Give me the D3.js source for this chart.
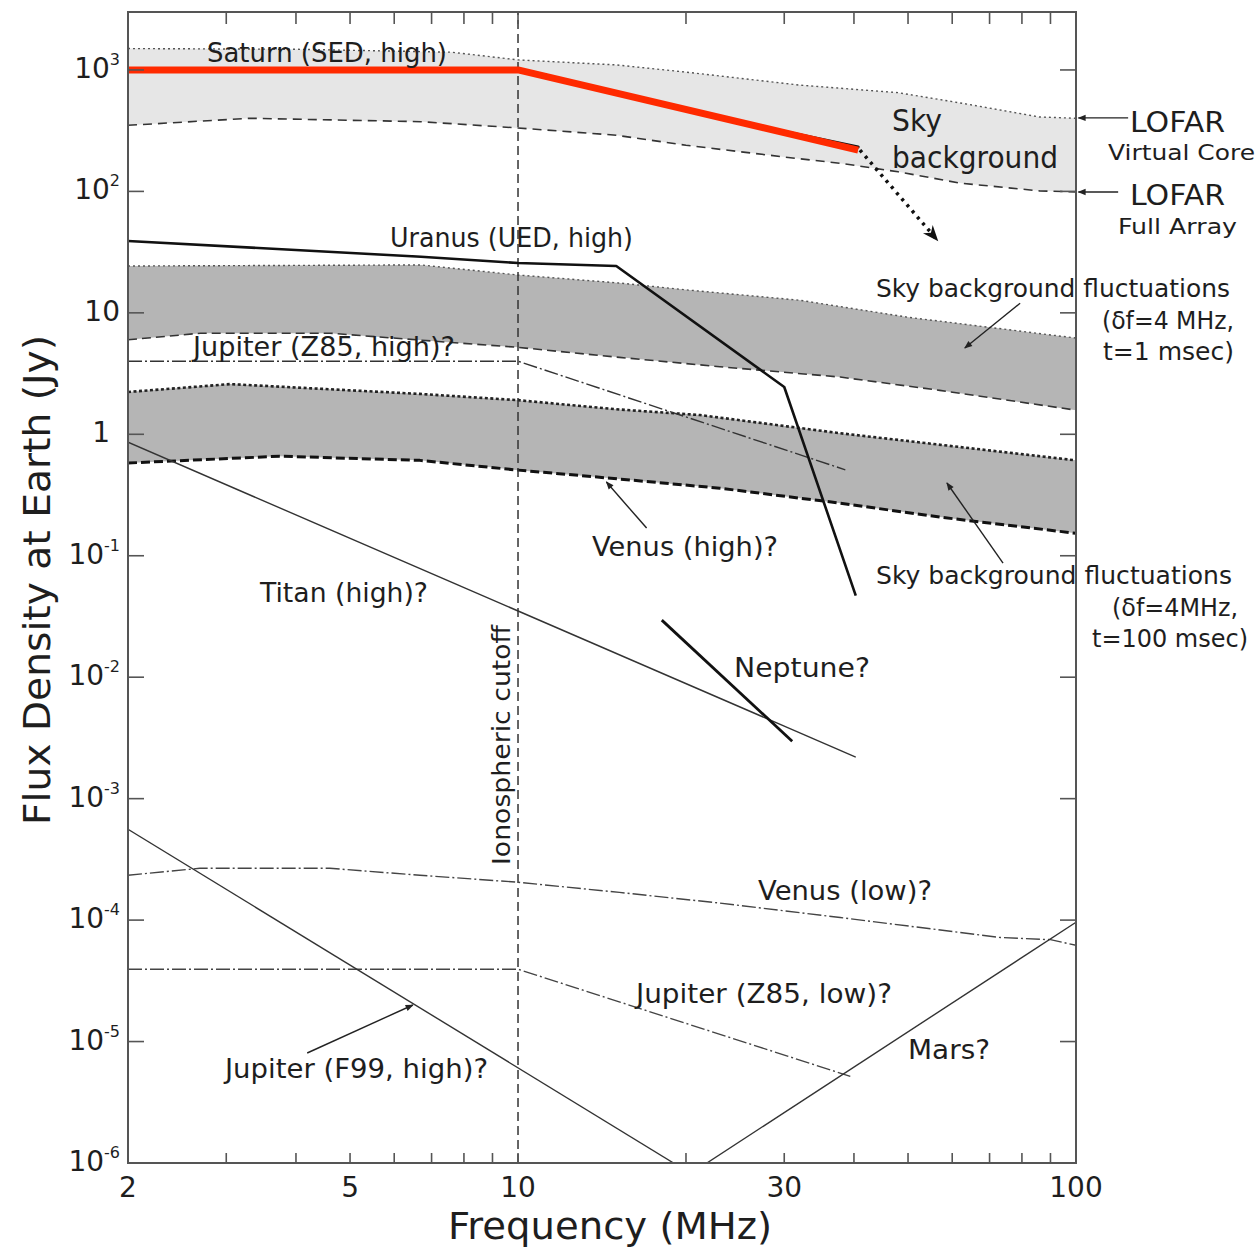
<!DOCTYPE html>
<html><head><meta charset="utf-8">
<script src="https://cdn.jsdelivr.net/npm/d3@7"></script>
<style>body{margin:0;background:#fff}svg{display:block}</style>
</head><body>
<svg id="c" width="1260" height="1250"></svg>
<script>
// ---------- tick data ----------
const xMajorTicks = [2, 5, 10, 30, 100];
const xMinorTicks = [3, 4, 5, 6, 7, 8, 9, 10, 20, 30, 40, 50, 60, 70, 80, 90];
const yTickValues = [1e-6, 1e-5, 1e-4, 1e-3, 1e-2, 1e-1, 1, 10, 100, 1000];
const yLabelBase = ["10", "10", "10", "10", "10", "10", "1", "10", "10", "10"];
const yLabelExp = ["-6", "-5", "-4", "-3", "-2", "-1", "", "", "2", "3"];

// ---------- series (frequency MHz, flux Jy) ----------
const skyBgUpper = [[2,1500],[4,1480],[7.6,1400],[10,1210],[15,1100],[20,960],[32,750],[48,650],[62,535],[86,410],[100,400]];
const skyBgLower = [[2,350],[3.3,400],[6.7,375],[10,333],[15,290],[20,240],[30,192],[38,170],[48,145],[62,117],[86,101],[100,99]];
const saturnSED = [[2,1000],[10,1000],[40.7,219]];
const saturnSEDEdge = [[22,420],[40.7,232]];
const saturnExtrap = [[41,219],[56.4,39.8]];
const uranus = [[2,39],[6.7,29],[10,25.7],[15,24.3],[30,2.45],[40.3,0.047]];
const fluct1Upper = [[2,24.3],[6.7,24.8],[10,20.5],[15.2,17.6],[20.2,15.4],[32,12.7],[50,9.2],[100,6.2]];
const fluct1Lower = [[2,6.0],[2.7,6.8],[4.6,6.8],[7.6,5.7],[10,5.2],[15.2,4.3],[23,3.6],[37.8,2.96],[57,2.3],[100,1.58]];
const jupiterZ85High = [[2,4.0],[10,4.0],[38.6,0.51]];
const fluct2Upper = [[2,2.23],[3.05,2.59],[6.67,2.15],[10,1.91],[15.2,1.6],[21.2,1.44],[37.8,1.02],[100,0.61]];
const fluct2Lower = [[2,0.58],[3.74,0.66],[6.67,0.61],[10,0.507],[14,0.443],[23,0.36],[37.8,0.271],[57,0.208],[100,0.153]];
const titan = [[2,0.86],[40.3,0.0022]];
const neptune = [[18.1,0.0295],[31,0.00297]];
const venusLow = [[2,2.34e-4],[2.69,2.67e-4],[4.6,2.67e-4],[6.67,2.34e-4],[10,2.05e-4],[15.2,1.69e-4],[23,1.38e-4],[37.8,1.05e-4],[73,7.2e-5],[90,6.9e-5],[100,6.2e-5]];
const jupiterZ85Low = [[2,3.94e-5],[10,3.94e-5],[39.4,5.17e-6]];
const mars = [[21.8,1e-6],[100,9.6e-5]];
const jupiterF99 = [[2,5.6e-4],[19,1e-6]];
const ionoCutoff = [[10,1e-6],[10,3000]];

// annotation arrows in data coordinates [from, to]
const arrowLofarCore = [[124,403],[101,403]];
const arrowLofarFull = [[119,99],[101,99]];
const arrowFluct1 = [[79.4,12.0],[63.2,5.14]];
const arrowFluct2 = [[74,0.0871],[58.7,0.397]];
const arrowVenusHigh = [[17.0,0.169],[14.4,0.405]];
const arrowJupF99 = [[4.19,8.05e-6],[6.48,2.0e-5]];

// ---------- scales ----------
const L = 128, R = 1076, T = 12, B = 1163;
const x = d3.scaleLog().domain([2, 100]).range([L, R]);
const y = d3.scaleLog().domain([1e-6, 3000]).range([B, T]);

const svg = d3.select("#c");
const FONT = "'DejaVu Sans', sans-serif";
const TXT = "#1e1e1e";

const defs = svg.append("defs");
defs.append("clipPath").attr("id","plot").append("rect")
  .attr("x",L).attr("y",T).attr("width",R-L).attr("height",B-T);
defs.append("marker").attr("id","ah").attr("viewBox","0 0 10 10")
  .attr("refX",9).attr("refY",5).attr("markerWidth",10).attr("markerHeight",8)
  .attr("markerUnits","userSpaceOnUse").attr("orient","auto")
  .append("path").attr("d","M0,1 L10,5 L0,9 Z").attr("fill","#222");
defs.append("marker").attr("id","ahBig").attr("viewBox","0 0 10 10")
  .attr("refX",9).attr("refY",5).attr("markerWidth",26).attr("markerHeight",16)
  .attr("markerUnits","userSpaceOnUse").attr("orient","auto")
  .append("path").attr("d","M0,1 L10,5 L0,9 L3,5 Z").attr("fill","#111");

const line = d3.line().x(d => x(d[0])).y(d => y(d[1]));
const g = svg.append("g").attr("clip-path","url(#plot)");

function band(upper, lower, fill) {
  const pts = upper.concat(lower.slice().reverse());
  g.append("path").attr("d", line(pts) + "Z").attr("fill", fill).attr("stroke","none");
}
function curve(data, opts) {
  return g.append("path").attr("d", line(data)).attr("fill","none")
    .attr("stroke", opts.color || "#111")
    .attr("stroke-width", opts.w || 1.5)
    .attr("stroke-dasharray", opts.dash || null)
    .attr("stroke-linecap", opts.cap || "butt")
    .attr("stroke-linejoin","round");
}

// bands
band(skyBgUpper, skyBgLower, "#e6e6e6");
band(fluct1Upper, fluct1Lower, "#b5b5b5");
band(fluct2Upper, fluct2Lower, "#b5b5b5");

// band edges
curve(skyBgUpper, {w:1.4, dash:"2,3", color:"#555"});
curve(skyBgLower, {w:1.6, dash:"9,6", color:"#333"});
curve(fluct1Upper, {w:1.4, dash:"2,3", color:"#555"});
curve(fluct1Lower, {w:1.6, dash:"9,5", color:"#333"});
curve(fluct2Upper, {w:2.6, dash:"3,2.5", color:"#222"});
curve(fluct2Lower, {w:3, dash:"9,4", color:"#111"});

// ionospheric cutoff
curve(ionoCutoff, {w:1.5, dash:"9,5", color:"#333"});

// planetary curves
curve(jupiterZ85High, {w:1.4, dash:"14,3,2,3", color:"#333"});
curve(uranus, {w:2.6, color:"#111"});
curve(titan, {w:1.4, color:"#333"});
curve(neptune, {w:2.8, color:"#111"});
curve(venusLow, {w:1.4, dash:"14,3,2,3", color:"#444"});
curve(jupiterZ85Low, {w:1.4, dash:"14,3,2,3", color:"#444"});
curve(mars, {w:1.4, color:"#333"});
curve(jupiterF99, {w:1.4, color:"#333"});
curve(saturnSEDEdge, {w:3, color:"#111", cap:"round"});
curve(saturnSED, {w:7, color:"#ff2a00"});

// dotted extrapolation arrow
svg.append("path").attr("d", line(saturnExtrap)).attr("fill","none")
  .attr("stroke","#111").attr("stroke-width",3.5).attr("stroke-dasharray","3,5")
  .attr("marker-end","url(#ahBig)");

// annotation arrows
[arrowLofarCore, arrowLofarFull, arrowFluct1, arrowFluct2, arrowVenusHigh, arrowJupF99].forEach(a => {
  svg.append("path").attr("d", line(a)).attr("fill","none")
    .attr("stroke","#222").attr("stroke-width",1.4).attr("marker-end","url(#ah)");
});

// ---------- frame & ticks ----------
svg.append("rect").attr("x",L).attr("y",T).attr("width",R-L).attr("height",B-T)
  .attr("fill","none").attr("stroke","#555").attr("stroke-width",2);

const tickG = svg.append("g").attr("stroke","#555").attr("stroke-width",1.6);
xMinorTicks.forEach(v => {
  tickG.append("line").attr("x1",x(v)).attr("x2",x(v)).attr("y1",B).attr("y2",B-10);
  tickG.append("line").attr("x1",x(v)).attr("x2",x(v)).attr("y1",T).attr("y2",T+12);
});
yTickValues.forEach(v => {
  tickG.append("line").attr("x1",L).attr("x2",L+16).attr("y1",y(v)).attr("y2",y(v));
  tickG.append("line").attr("x1",R).attr("x2",R-16).attr("y1",y(v)).attr("y2",y(v));
});

// tick labels
const xl = svg.append("g").attr("font-family",FONT).attr("font-size",28).attr("fill",TXT)
  .attr("text-anchor","middle");
xMajorTicks.forEach(v => {
  xl.append("text").attr("x", x(v)).attr("y", B + 34).text(v);
});
const yl = svg.append("g").attr("font-family",FONT).attr("font-size",28).attr("fill",TXT)
  .attr("text-anchor","end");
yTickValues.forEach((v,i) => {
  const t = yl.append("text").attr("x", 120).attr("y", y(v) + 8);
  t.append("tspan").text(yLabelBase[i]);
  if (yLabelExp[i]) t.append("tspan").attr("font-size",16).attr("dy",-13).text(yLabelExp[i]);
  if (yLabelBase[i] === "1") t.attr("x", 110);
});

// axis titles
svg.append("text").attr("font-family",FONT).attr("font-size",38).attr("fill",TXT)
  .attr("text-anchor","middle").attr("x",(L+R)/2 + 8).attr("y",1239)
  .attr("textLength",324).attr("lengthAdjust","spacingAndGlyphs").text("Frequency (MHz)");
svg.append("text").attr("font-family",FONT).attr("font-size",38).attr("fill",TXT)
  .attr("text-anchor","middle").attr("transform","translate(50,580) rotate(-90)")
  .attr("textLength",490).attr("lengthAdjust","spacingAndGlyphs").text("Flux Density at Earth (Jy)");

// ---------- annotation labels ----------
const labels = [
  {t:"Saturn (SED, high)", x:207, y:62, s:27, w:240},
  {t:"Sky", x:892, y:131, s:30, w:50},
  {t:"background", x:892, y:168, s:30, w:166},
  {t:"LOFAR", x:1130, y:132, s:28, w:95},
  {t:"Virtual Core", x:1108, y:160, s:22, w:147},
  {t:"LOFAR", x:1130, y:205, s:28, w:95},
  {t:"Full Array", x:1118, y:234, s:22, w:119},
  {t:"Uranus (UED, high)", x:390, y:247, s:27, w:243},
  {t:"Sky background fluctuations", x:876, y:297, s:25, w:354},
  {t:"(δf=4 MHz,", x:1234, y:329, s:24, w:132, a:"end"},
  {t:"t=1 msec)", x:1234, y:360, s:24, w:131, a:"end"},
  {t:"Jupiter (Z85, high)?", x:193, y:356, s:27, w:262},
  {t:"Venus (high)?", x:592, y:556, s:27, w:186},
  {t:"Sky background fluctuations", x:876, y:584, s:25, w:356},
  {t:"(δf=4MHz,", x:1238, y:616, s:24, w:126, a:"end"},
  {t:"t=100 msec)", x:1248, y:647, s:24, w:156, a:"end"},
  {t:"Titan (high)?", x:260, y:602, s:26, w:168},
  {t:"Neptune?", x:734, y:677, s:27, w:136},
  {t:"Venus (low)?", x:758, y:900, s:26, w:174},
  {t:"Jupiter (Z85, low)?", x:636, y:1003, s:26, w:256},
  {t:"Mars?", x:908, y:1059, s:26, w:82},
  {t:"Jupiter (F99, high)?", x:225, y:1078, s:26, w:263}
];
const lg = svg.append("g").attr("font-family",FONT).attr("fill",TXT);
labels.forEach(d => {
  lg.append("text").attr("x",d.x).attr("y",d.y).attr("font-size",d.s)
    .attr("text-anchor", d.a || "start")
    .attr("textLength", d.w).attr("lengthAdjust","spacingAndGlyphs").text(d.t);
});
lg.append("text").attr("transform","translate(510,865) rotate(-90)").attr("font-size",25)
  .attr("textLength",240).attr("lengthAdjust","spacingAndGlyphs").text("Ionospheric cutoff");
</script>
</body></html>
